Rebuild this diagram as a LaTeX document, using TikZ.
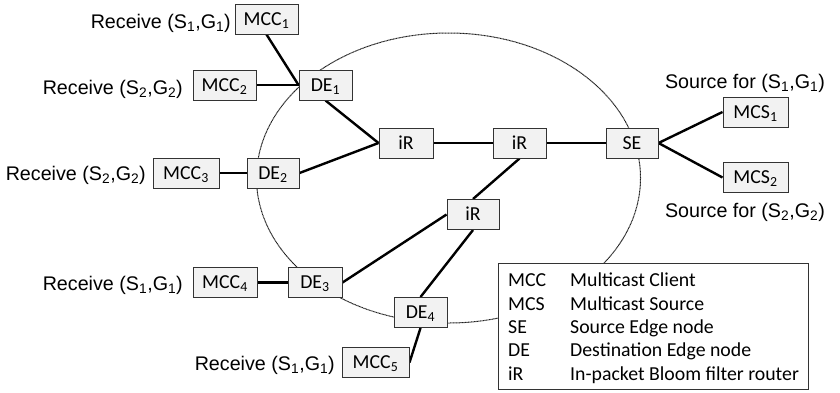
\documentclass[tikz,border=0pt]{standalone}
\usepackage{fontspec}
\setmainfont{Carlito}
\newfontfamily\labelfont{Liberation Sans}
\usetikzlibrary{backgrounds}
\definecolor{boxfill}{HTML}{F2F2F2}
\definecolor{boxline}{HTML}{333333}
\definecolor{ringline}{HTML}{202020}
\begin{document}
\begin{tikzpicture}[x=1pt,y=-1pt,
  netbox/.style={draw=boxline, fill=boxfill, line width=1pt, minimum height=30pt,
    inner sep=0pt, text height=12.5pt, text depth=0pt,
    font=\fontsize{19.8}{22}\selectfont},
  link/.style={line width=2.4pt, black},
  ring/.style={ringline, line width=1pt, dash pattern=on 1pt off 0.5pt},
  caption/.style={font=\labelfont\fontsize{19.7}{22}\selectfont, inner sep=0pt},
  keytext/.style={font=\fontsize{19.8}{22}\selectfont, inner sep=0pt, anchor=base west},
]
\useasboundingbox (0,0) rectangle (840,392);

% network nodes
\node[netbox, minimum width=63pt] (mcc1) at (266.5,19)  {MCC\textsubscript{1}};
\node[netbox, minimum width=63pt] (mcc2) at (224.5,85)  {MCC\textsubscript{2}};
\node[netbox, minimum width=66pt] (mcc3) at (186,173)   {MCC\textsubscript{3}};
\node[netbox, minimum width=64pt] (mcc4) at (225,282.5) {MCC\textsubscript{4}};
\node[netbox, minimum width=67pt] (mcc5) at (375.5,362.5) {MCC\textsubscript{5}};
\node[netbox, minimum width=53pt] (de1) at (325.5,85)   {DE\textsubscript{1}};
\node[netbox, minimum width=52pt] (de2) at (273,173)    {DE\textsubscript{2}};
\node[netbox, minimum width=54pt] (de3) at (315,282.5)  {DE\textsubscript{3}};
\node[netbox, minimum width=53pt] (de4) at (420.5,312.5) {DE\textsubscript{4}};
\node[netbox, minimum width=54pt] (ir1) at (406,143)    {iR};
\node[netbox, minimum width=53pt] (ir2) at (519.5,143)  {iR};
\node[netbox, minimum width=52pt] (ir3) at (473,214.5)  {iR};
\node[netbox, minimum width=52pt] (se)  at (632,143)    {SE};
\node[netbox, minimum width=65pt] (mcs1) at (755.5,112) {MCS\textsubscript{1}};
\node[netbox, minimum width=65pt] (mcs2) at (755.5,177.5) {MCS\textsubscript{2}};

% group labels
\node[caption, anchor=base east] (rx1) at (231,28)  {Receive (S\textsubscript{1},G\textsubscript{1})};
\node[caption, anchor=base east] (rx2) at (183,94)  {Receive (S\textsubscript{2},G\textsubscript{2})};
\node[caption, anchor=base east] (rx3) at (146,180) {Receive (S\textsubscript{2},G\textsubscript{2})};
\node[caption, anchor=base east] (rx4) at (183,290) {Receive (S\textsubscript{1},G\textsubscript{1})};
\node[caption, anchor=base east] (rx5) at (335,370) {Receive (S\textsubscript{1},G\textsubscript{1})};
\node[caption, anchor=base east] (tx1) at (825,88)  {Source for (S\textsubscript{1},G\textsubscript{1})};
\node[caption, anchor=base east] (tx2) at (825,217) {Source for (S\textsubscript{2},G\textsubscript{2})};

% legend
\node[draw=boxline, fill=white, line width=1pt, minimum width=310pt, minimum height=126pt,
  inner sep=0pt, anchor=north west] (legend) at (498,263) {};
\node[keytext] (kMCC) at (508,286.7) {MCC};
\node[keytext] (kMCS) at (508,310)   {MCS};
\node[keytext] (kSE)  at (508,333.3) {SE};
\node[keytext] (kDE)  at (508,356.7) {DE};
\node[keytext] (kiR)  at (508,380)   {iR};
\node[keytext] (dMCC) at (570,286.7) {Multicast Client};
\node[keytext] (dMCS) at (570,310)   {Multicast Source};
\node[keytext] (dSE)  at (570,333.3) {Source Edge node};
\node[keytext] (dDE)  at (570,356.7) {Destination Edge node};
\node[keytext] (diR)  at (570,380)   {In-packet Bloom filter router};

\begin{scope}[on background layer]
  % domain boundary
  \draw[ring] (448.5,178) ellipse [x radius=192pt, y radius=145pt];
  % links
  \draw[link] (mcc1.south) -- (de1.west);
  \draw[link] (mcc2.east) -- (de1.west);
  \draw[link] (de1.south) -- (ir1.west);
  \draw[link] (mcc3.east) -- (de2.west);
  \draw[link] (de2.east) -- (ir1.west);
  \draw[link] (ir1.east) -- (ir2.west);
  \draw[link] (ir2.east) -- (se.west);
  \draw[link] (se.east) -- (mcs1.west);
  \draw[link] (se.east) -- (mcs2.west);
  \draw[link] (ir2.south) -- (ir3.north);
  \draw[link] (ir3.west) -- (de3.east);
  \draw[link] (mcc4.east) -- (de3.west);
  \draw[link] (ir3.south) -- (de4.north);
  \draw[link] (de4.south) -- (mcc5.east);
\end{scope}
\end{tikzpicture}
\end{document}
